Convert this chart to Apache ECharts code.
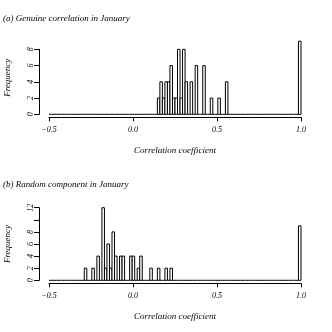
<!DOCTYPE html>
<html>
<head>
<meta charset="utf-8">
<script src="https://cdn.jsdelivr.net/npm/echarts@6/dist/echarts.min.js"></script>
<style>
  html, body { margin: 0; padding: 0; background: #fff; }
  #chart { width: 332px; height: 332px; }
</style>
</head>
<body>
<div id="chart"></div>
<script>
// histogram bins: 100 bins of width 0.015 from -0.5 to 1.0
const binWidth = 0.015;
const xMin = -0.5, xMax = 1.0;
const xTickLabels = ["\u22120.5", "0.0", "0.5", "1.0"];

// (a) genuine correlation: left edge of each non-empty bin and its count
const genuineBins   = [0.145, 0.16, 0.175, 0.19, 0.205, 0.22, 0.235, 0.25, 0.265, 0.28, 0.295, 0.31, 0.34, 0.37, 0.415, 0.46, 0.505, 0.55, 0.985];
const genuineCounts = [2, 4, 2, 4, 4, 6, 2, 2, 8, 2, 8, 4, 4, 6, 6, 2, 2, 4, 9];

// (b) random component
const randomBins   = [-0.29, -0.245, -0.215, -0.185, -0.17, -0.155, -0.14, -0.125, -0.11, -0.08, -0.065, -0.02, -0.005, 0.025, 0.04, 0.1, 0.145, 0.19, 0.22, 0.985];
const randomCounts = [2, 2, 4, 12, 2, 6, 2, 8, 4, 4, 4, 4, 4, 2, 4, 2, 2, 2, 2, 9];

const yTicksA  = [0, 2, 4, 6, 8];
const yTicksB  = [0, 2, 4, 6, 8, 10, 12];
const yLabelsB = [0, 2, 4, 6, 8, 12];

function fullBins(bins, counts) {
  const n = Math.round((xMax - xMin) / binWidth);
  const out = [];
  for (let i = 0; i < n; i++) out.push([xMin + i * binWidth, 0]);
  bins.forEach((b, j) => {
    const i = Math.round((b - xMin) / binWidth);
    out[i][1] = counts[j];
  });
  return out;
}

function renderBar(params, api) {
  const x0 = api.value(0), n = api.value(1);
  const p0 = api.coord([x0, 0]);
  const p1 = api.coord([x0 + binWidth, n]);
  if (n === 0) {
    return { type: "line", shape: { x1: p0[0], y1: p0[1], x2: p1[0], y2: p0[1] },
             style: { stroke: "#000", lineWidth: 1 } };
  }
  return { type: "rect",
           shape: { x: p0[0], y: p1[1], width: p1[0] - p0[0], height: p0[1] - p1[1] },
           style: { fill: "#fff", stroke: "#000", lineWidth: 1 } };
}

const font = "Liberation Serif";
const txt = { fontFamily: font, fontStyle: "italic", color: "#000" };
const line = { show: true, onZero: false, lineStyle: { color: "#000", width: 1 } };

function xAxisFor(gridIndex) {
  return {
    type: "value", gridIndex, min: xMin, max: xMax, interval: 0.5,
    position: "bottom", offset: 3,
    axisLine: line,
    axisTick: { show: true, length: 4, lineStyle: { color: "#000" } },
    axisLabel: { ...txt, fontSize: 8, margin: 9,
                 formatter: (v) => xTickLabels[Math.round((v - xMin) / 0.5)] },
    splitLine: { show: false },
    name: "Correlation coefficient", nameLocation: "middle", nameGap: 29,
    nameTextStyle: { ...txt, fontSize: 9 }
  };
}

const yLabel = { ...txt, fontSize: 8, rotate: 90, margin: 4 };

const option = {
  animation: false,
  backgroundColor: "#fff",
  title: [
    { text: "(a) Genuine correlation in January", left: 3, top: 14, padding: 0,
      textStyle: { ...txt, fontSize: 9, fontWeight: "normal" } },
    { text: "(b) Random component in January", left: 3, top: 180, padding: 0,
      textStyle: { ...txt, fontSize: 9, fontWeight: "normal" } }
  ],
  grid: [
    { left: 49, right: 31, top: 41.2, height: 73.1, outerBoundsMode: "none" },   // (a) bars, 0..9
    { left: 49, right: 31, top: 49.3, height: 65, outerBoundsMode: "none" },     // (a) y axis, 0..8
    { left: 49, right: 31, top: 207.7, height: 72.6, outerBoundsMode: "none" }   // (b) bars, 0..12
  ],
  xAxis: [
    xAxisFor(0),
    { type: "value", gridIndex: 1, min: xMin, max: xMax, show: false },
    xAxisFor(2)
  ],
  yAxis: [
    { type: "value", gridIndex: 0, min: 0, max: Math.max(...genuineCounts), offset: 10,
      axisLine: { show: false, onZero: false }, axisTick: { show: false }, axisLabel: { show: false },
      splitLine: { show: false },
      name: "Frequency", nameLocation: "middle", nameGap: 27,
      nameTextStyle: { ...txt, fontSize: 9 } },
    { type: "value", gridIndex: 1, min: 0, max: 8, interval: 2, offset: 10, position: "left",
      axisLine: line,
      axisTick: { show: true, length: 5, customValues: yTicksA, lineStyle: { color: "#000" } },
      axisLabel: { ...yLabel, customValues: yTicksA },
      splitLine: { show: false } },
    { type: "value", gridIndex: 2, min: 0, max: 12, interval: 2, offset: 10, position: "left",
      axisLine: line,
      axisTick: { show: true, length: 5, customValues: yTicksB, lineStyle: { color: "#000" } },
      axisLabel: { ...yLabel, customValues: yLabelsB },
      splitLine: { show: false },
      name: "Frequency", nameLocation: "middle", nameGap: 27,
      nameTextStyle: { ...txt, fontSize: 9 } }
  ],
  series: [
    { type: "custom", xAxisIndex: 0, yAxisIndex: 0, renderItem: renderBar,
      encode: { x: 0, y: 1 }, data: fullBins(genuineBins, genuineCounts) },
    { type: "custom", xAxisIndex: 2, yAxisIndex: 2, renderItem: renderBar,
      encode: { x: 0, y: 1 }, data: fullBins(randomBins, randomCounts) }
  ]
};

const chart = echarts.init(document.getElementById("chart"));
chart.setOption(option);
</script>
</body>
</html>
